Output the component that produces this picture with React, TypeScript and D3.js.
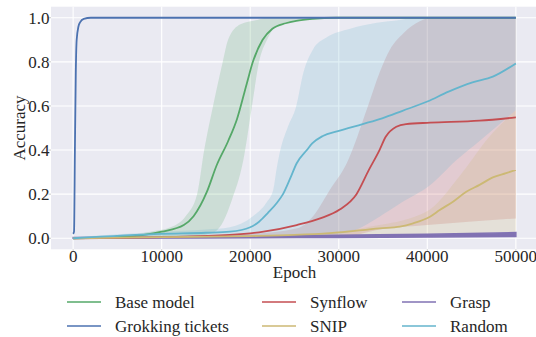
import React from 'react';
import * as d3 from 'd3';

const WIDTH = 536;
const HEIGHT = 337;

// Base model (green)
const baseEpochs = [0, 5000, 8000, 10000, 12500, 13600, 15100, 16200, 17500, 18500, 19600, 20300, 21400, 22500, 24000, 25200, 27000, 29700, 50000];
const baseMean = [0, 0.005, 0.015, 0.03, 0.06, 0.1, 0.21, 0.33, 0.44, 0.54, 0.7, 0.8, 0.9, 0.95, 0.975, 0.986, 0.995, 1.0, 1.0];
const baseUpEpochs = [0, 5000, 8700, 11000, 12700, 14000, 14800, 15800, 16900, 17500, 18900, 20800, 21900, 50000];
const baseUpper = [0.005, 0.01, 0.03, 0.05, 0.1, 0.2, 0.4, 0.6, 0.8, 0.9, 0.97, 0.99, 1.0, 1.0];
const baseLoEpochs = [0, 10000, 14000, 16000, 17000, 17900, 19200, 20200, 21000, 21900, 22900, 25500, 29700, 50000];
const baseLower = [0, 0.003, 0.01, 0.03, 0.08, 0.17, 0.35, 0.6, 0.8, 0.9, 0.96, 0.99, 1.0, 1.0];

// Grokking tickets (blue)
const grokEpochs = [0, 100, 200, 300, 400, 600, 800, 1200, 2000, 50000];
const grokMean = [0.02, 0.03, 0.4, 0.75, 0.9, 0.96, 0.98, 0.995, 1.0, 1.0];

// Synflow (red)
const synEpochs = [0, 10000, 17700, 21500, 25250, 27900, 30100, 32000, 33400, 34600, 35300, 36500, 37600, 40300, 45900, 50000];
const synMean = [0, 0.005, 0.015, 0.03, 0.06, 0.09, 0.13, 0.2, 0.31, 0.4, 0.46, 0.506, 0.518, 0.524, 0.533, 0.548];
const synUpEpochs = [0, 10000, 20000, 25300, 27100, 29000, 30900, 33300, 34600, 35800, 37300, 39200, 40500, 50000];
const synUpper = [0.005, 0.01, 0.02, 0.045, 0.1, 0.22, 0.34, 0.6, 0.75, 0.857, 0.93, 0.985, 1.0, 1.0];
const synLoEpochs = [0, 30000, 34600, 40000, 50000];
const synLower = [0, 0.003, 0.04, 0.06, 0.09];

// SNIP (yellow)
const snipEpochs = [0, 10000, 20000, 25000, 29000, 34600, 36900, 38400, 40300, 41400, 42900, 44400, 45900, 47400, 48900, 50000];
const snipMean = [0, 0.005, 0.01, 0.015, 0.023, 0.045, 0.053, 0.068, 0.098, 0.128, 0.166, 0.211, 0.242, 0.276, 0.295, 0.31];
const snipUpEpochs = [0, 20000, 30000, 34600, 36000, 38000, 40300, 44000, 47000, 50000];
const snipUpper = [0.003, 0.01, 0.03, 0.06, 0.07, 0.09, 0.13, 0.3, 0.46, 0.58];
const snipLoEpochs = [0, 30000, 40000, 50000];
const snipLower = [0, 0.005, 0.015, 0.03];

// Grasp (purple) - noisy line near zero
const graspEpochs = [0, 20000, 30000, 40000, 50000];
const graspUpper = [0.004, 0.008, 0.014, 0.018, 0.026];
const graspLower = [0, 0.002, 0.004, 0.006, 0.008];

// Random (cyan)
const randEpochs = [0, 10000, 15000, 17700, 20000, 21000, 22000, 23000, 23700, 24500, 25250, 26400, 27000, 28200, 29900, 32700, 34900, 37200, 40000, 42400, 45100, 47400, 50000];
const randMean = [0, 0.02, 0.025, 0.03, 0.05, 0.075, 0.115, 0.16, 0.2, 0.27, 0.34, 0.4, 0.43, 0.464, 0.486, 0.518, 0.544, 0.578, 0.62, 0.665, 0.707, 0.733, 0.793];
const randUpEpochs = [0, 10000, 15000, 17700, 20300, 21800, 22600, 23000, 23400, 24200, 25200, 26000, 27100, 28600, 31300, 34300, 36900, 38800, 50000];
const randUpper = [0.005, 0.03, 0.04, 0.05, 0.1, 0.16, 0.22, 0.32, 0.4, 0.5, 0.6, 0.75, 0.857, 0.91, 0.95, 0.977, 0.99, 1.0, 1.0];
const randLoEpochs = [0, 20000, 30000, 32000, 34600, 37000, 40300, 43300, 46000, 49400, 50000];
const randLower = [0, 0.005, 0.02, 0.04, 0.098, 0.16, 0.24, 0.355, 0.445, 0.56, 0.58];

const xTicks = [0, 10000, 20000, 30000, 40000, 50000];
const yTicks = [0, 0.2, 0.4, 0.6, 0.8, 1.0];

const COLORS = {
  green: '#55A868',
  blue: '#4C72B0',
  red: '#C44E52',
  yellow: '#CCB974',
  purple: '#8172B3',
  cyan: '#64B5CD',
};

const legendItems = [
  { label: 'Base model', color: COLORS.green },
  { label: 'Grokking tickets', color: COLORS.blue },
  { label: 'Synflow', color: COLORS.red },
  { label: 'SNIP', color: COLORS.yellow },
  { label: 'Grasp', color: COLORS.purple },
  { label: 'Random', color: COLORS.cyan },
];

const zip = (xs: number[], ys: number[]) => xs.map((x, i) => [x, ys[i]] as [number, number]);

const x = d3.scaleLinear().domain([-2500, 52500]).range([51, 538]);
const y = d3.scaleLinear().domain([-0.05, 1.05]).range([249.3, 6.7]);

const line = d3.line<[number, number]>()
  .x(d => x(d[0]))
  .y(d => y(d[1]))
  .curve(d3.curveMonotoneX);

// band path: upper edge forward, lower edge back
const band = (upE: number[], up: number[], loE: number[], lo: number[]) => {
  const top = line(zip(upE, up)) || '';
  const bottom = line(zip(loE, lo).reverse()) || '';
  return top + 'L' + bottom.slice(1) + 'Z';
};

const FONT = "'Liberation Serif', 'Times New Roman', Times, Tinos, 'DejaVu Serif', serif";
const txt: React.CSSProperties = { fontFamily: FONT };

const App: React.FC = () => {
  const [x0, x1] = x.range();
  const [y0, y1] = y.range();

  const bands = [
    { d: band(baseUpEpochs, baseUpper, baseLoEpochs, baseLower), color: COLORS.green },
    { d: band(synUpEpochs, synUpper, synLoEpochs, synLower), color: COLORS.red },
    { d: band(snipUpEpochs, snipUpper, snipLoEpochs, snipLower), color: COLORS.yellow },
    { d: band(randUpEpochs, randUpper, randLoEpochs, randLower), color: COLORS.cyan },
  ];

  const lines = [
    { d: line(zip(baseEpochs, baseMean)), color: COLORS.green },
    { d: line(zip(synEpochs, synMean)), color: COLORS.red },
    { d: line(zip(snipEpochs, snipMean)), color: COLORS.yellow },
    { d: line(zip(randEpochs, randMean)), color: COLORS.cyan },
    { d: line(zip(grokEpochs, grokMean)), color: COLORS.blue },
  ];

  return (
    <svg
      width={WIDTH}
      height={HEIGHT}
      style={{ position: 'absolute', left: 0, top: 0, background: '#fff' }}
    >
      <defs>
        <clipPath id="plot-clip">
          <rect x={x0} y={y1} width={x1 - x0} height={y0 - y1} />
        </clipPath>
      </defs>

      {/* Plot background */}
      <rect x={x0} y={y1} width={x1 - x0} height={y0 - y1} fill="#EAEAF2" />

      {/* Grid */}
      {xTicks.map(t => (
        <line key={'gx' + t} x1={x(t)} x2={x(t)} y1={y1} y2={y0} stroke="#fff" strokeWidth={1.1} />
      ))}
      {yTicks.map(t => (
        <line key={'gy' + t} x1={x0} x2={x1} y1={y(t)} y2={y(t)} stroke="#fff" strokeWidth={1.1} />
      ))}

      <g clipPath="url(#plot-clip)">
        {bands.map((b, i) => (
          <path key={'b' + i} d={b.d} fill={b.color} fillOpacity={0.2} stroke="none" />
        ))}
        <path
          d={band(graspEpochs, graspUpper, graspEpochs, graspLower)}
          fill={COLORS.purple}
          stroke={COLORS.purple}
          strokeWidth={1.5}
        />
        {lines.map((l, i) => (
          <path key={'l' + i} d={l.d || undefined} fill="none" stroke={l.color} strokeWidth={1.8} />
        ))}
      </g>

      {/* Ticks */}
      {xTicks.map(t => (
        <g key={'tx' + t}>
          <line x1={x(t)} x2={x(t)} y1={y0} y2={y0 + 2.5} stroke="#c8c8c8" />
          <text x={x(t)} y={262} textAnchor="middle" fontSize={17} fill="#262626" style={txt}>{t}</text>
        </g>
      ))}
      {yTicks.map(t => (
        <g key={'ty' + t}>
          <line x1={x0 - 2.5} x2={x0} y1={y(t)} y2={y(t)} stroke="#c8c8c8" />
          <text x={49.5} y={y(t)} dy="0.36em" textAnchor="end" fontSize={17} fill="#262626" style={txt}>{t.toFixed(1)}</text>
        </g>
      ))}

      {/* Axis labels */}
      <text x={(x0 + x1) / 2} y={278} textAnchor="middle" fontSize={17} fill="#262626" style={txt}>Epoch</text>
      <text
        transform={`translate(24.5, ${(y0 + y1) / 2}) rotate(-90)`}
        textAnchor="middle"
        fontSize={17}
        fill="#262626"
        style={txt}
      >
        Accuracy
      </text>

      {/* Legend */}
      {legendItems.map((item, i) => {
        const col = Math.floor(i / 2);
        const row = i % 2;
        const lx = [67, 262, 402][col];
        const ly = [302, 326][row];
        return (
          <g key={item.label}>
            <line x1={lx} x2={lx + 34} y1={ly} y2={ly} stroke={item.color} strokeWidth={1.3} />
            <text x={lx + 48} y={ly + 6} fontSize={17} fill="#262626" style={txt}>{item.label}</text>
          </g>
        );
      })}
    </svg>
  );
};

export default App;
